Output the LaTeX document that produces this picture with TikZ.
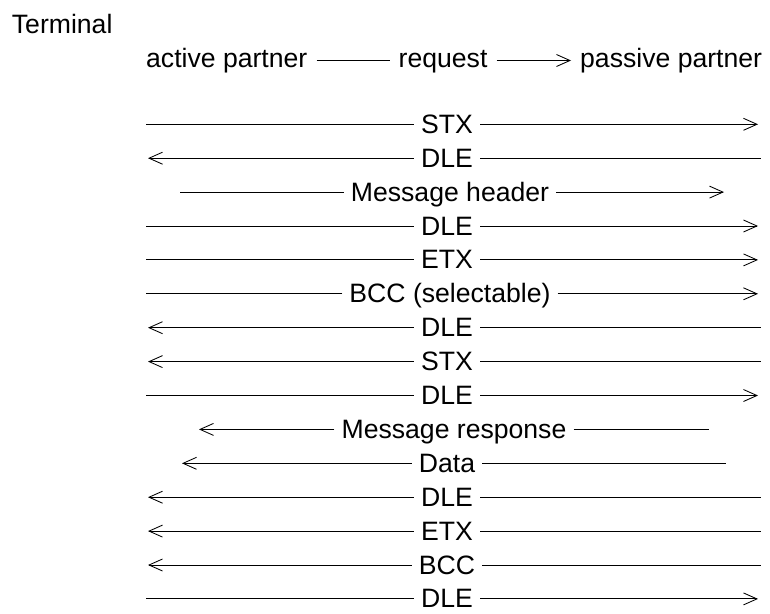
\documentclass[tikz,border=0pt]{standalone}
\usepackage{fontspec}
\setmainfont{Liberation Sans}
\usetikzlibrary{arrows.meta}
\begin{document}
\begin{tikzpicture}[x=1pt,y=-1pt,
  lbl/.style={font=\fontsize{26.6}{30}\selectfont, inner ysep=0pt, inner xsep=7pt, anchor=base},
  conn/.style={line width=0.85pt},
  plain/.style={conn},
  head/.style={conn,-{Straight Barb[length=13.5pt,width=12pt]}}]
\useasboundingbox (0,0) rectangle (770,613);
\node[lbl, anchor=base west, inner xsep=0pt] (term) at (11.7,33) {Terminal};
\node[lbl, anchor=base west, inner xsep=9pt] (ap) at (137,67) {active partner};
\node[lbl, anchor=base west, inner xsep=9pt] (rq) at (389.5,67) {request};
\node[lbl, anchor=base west, inner xsep=9pt] (pp) at (571,67) {passive partner};
\coordinate (m) at (0,60.5);
\draw[plain] (ap.east |- m) -- (rq.west |- m);
\draw[head] (rq.east |- m) -- (pp.west |- m);
\foreach \i/\lab/\cx/\xl/\xr/\sl/\sr in {
  1/STX/447/146/758/plain/head,
  2/DLE/447/148/761/head/plain,
  3/Message header/450/180/724/plain/head,
  4/DLE/447/146/758/plain/head,
  5/ETX/447/146/758/plain/head,
  6/BCC (selectable)/450/146/758/plain/head,
  7/DLE/447/148/761/head/plain,
  8/STX/447/148/761/head/plain,
  9/DLE/447/146/758/plain/head,
  10/Message response/454/199/709/head/plain,
  11/Data/447/182/726/head/plain,
  12/DLE/447/148/761/head/plain,
  13/ETX/447/148/761/head/plain,
  14/BCC/447/148/761/head/plain,
  15/DLE/447/146/758/plain/head}{
  \pgfmathsetmacro{\yy}{124.3+33.9*(\i-1)}
  \coordinate (a\i) at (\xl,\yy);
  \coordinate (b\i) at (\xr,\yy);
  \node[lbl] (t\i) at (\cx,\yy+9.0) {\lab};
  \draw[\sl] (t\i.west |- a\i) -- (a\i);
  \draw[\sr] (t\i.east |- b\i) -- (b\i);
}
\end{tikzpicture}
\end{document}
